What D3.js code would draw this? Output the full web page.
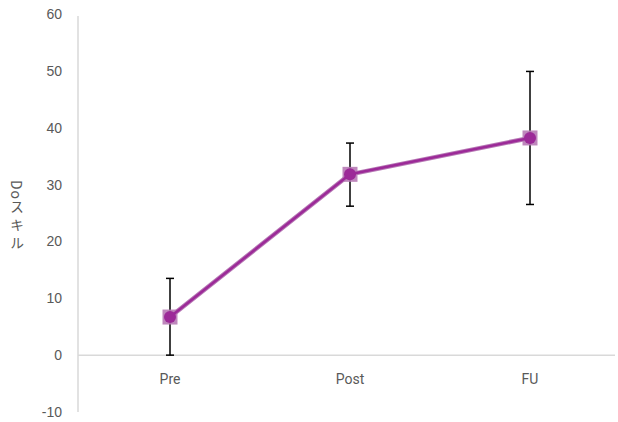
<!DOCTYPE html>
<html>
<head>
<meta charset="utf-8">
<script src="https://cdn.jsdelivr.net/npm/d3@7"></script>
<style>
  body { margin: 0; background: #fff; }
  text { font-family: "Noto Sans CJK JP", "Noto Sans", sans-serif; }
</style>
</head>
<body>
<div id="chart"></div>
<script>
// data
var categories = ["Pre", "Post", "FU"];
var means = [6.7, 31.8, 38.2];
var errUp = [6.8, 5.5, 11.7];
var errDown = [6.7, 5.6, 11.7];
var yTicks = [-10, 0, 10, 20, 30, 40, 50, 60];
var yTitleParts = ["Do", "スキル"];

var svgWidth = 618, svgHeight = 422;
var svg = d3.select("#chart").append("svg")
  .attr("width", svgWidth)
  .attr("height", svgHeight);

// scales
var x = d3.scalePoint()
  .domain(categories)
  .range([170, 530]);

var y = d3.scaleLinear()
  .domain([-10, 60])
  .range([412, 14]);

// left axis
var yAxis = svg.append("g")
  .attr("transform", "translate(78,0)")
  .call(d3.axisLeft(y).tickValues(yTicks).tickSize(0).tickPadding(16)
    .tickFormat(function(d) { return String(d); }));
yAxis.select(".domain").attr("stroke", "#d9d9d9").attr("stroke-width", 1.5)
  .attr("d", "M0," + (y(60) + 2) + "V" + y(-10));
yAxis.selectAll("text").attr("fill", "#595959").style("font-size", "14px")
  .style("font-family", "'Liberation Sans', Arial, sans-serif");

// zero line
svg.append("line")
  .attr("x1", 78).attr("x2", 615)
  .attr("y1", y(0)).attr("y2", y(0))
  .attr("stroke", "#d9d9d9").attr("stroke-width", 1.5);

// category labels
svg.selectAll(".cat")
  .data(categories)
  .enter().append("text")
  .attr("x", function(d) { return x(d); })
  .attr("y", 384)
  .attr("text-anchor", "middle")
  .attr("fill", "#595959")
  .style("font-size", "14px")
  .style("font-family", "Roboto, 'Noto Sans', sans-serif")
  .text(function(d) { return d; });

// y title (vertical writing)
var title = svg.append("text")
  .attr("x", 17)
  .attr("y", 217)
  .attr("text-anchor", "middle")
  .attr("fill", "#595959")
  .style("writing-mode", "vertical-rl")
  .style("text-orientation", "mixed")
  .style("font-size", "14px");
title.append("tspan").style("letter-spacing", "1px").text(yTitleParts[0]);
title.append("tspan").style("letter-spacing", "4px").text(yTitleParts[1]);

// error bars
var eb = svg.selectAll(".err")
  .data(categories)
  .enter().append("g");
eb.append("line")
  .attr("x1", function(d) { return x(d); })
  .attr("x2", function(d) { return x(d); })
  .attr("y1", function(d, i) { return y(means[i] + errUp[i]); })
  .attr("y2", function(d, i) { return y(means[i] - errDown[i]); })
  .attr("stroke", "#000").attr("stroke-width", 1.5);
eb.append("line")
  .attr("x1", function(d) { return x(d) - 4; })
  .attr("x2", function(d) { return x(d) + 4; })
  .attr("y1", function(d, i) { return y(means[i] + errUp[i]); })
  .attr("y2", function(d, i) { return y(means[i] + errUp[i]); })
  .attr("stroke", "#000").attr("stroke-width", 1.5);
eb.append("line")
  .attr("x1", function(d) { return x(d) - 4; })
  .attr("x2", function(d) { return x(d) + 4; })
  .attr("y1", function(d, i) { return y(means[i] - errDown[i]); })
  .attr("y2", function(d, i) { return y(means[i] - errDown[i]); })
  .attr("stroke", "#000").attr("stroke-width", 1.5);

// lines
var line = d3.line()
  .x(function(d, i) { return x(categories[i]); })
  .y(function(d) { return y(d); });

svg.append("path")
  .datum(means)
  .attr("fill", "none")
  .attr("stroke", "#b77ab5")
  .attr("stroke-width", 4.5)
  .attr("stroke-linejoin", "round")
  .attr("d", line);

// square markers
svg.selectAll(".sq")
  .data(means)
  .enter().append("rect")
  .attr("x", function(d, i) { return x(categories[i]) - 7.5; })
  .attr("y", function(d) { return y(d) - 7.5; })
  .attr("width", 15).attr("height", 15)
  .attr("fill", "#b77ab5")
  .attr("opacity", 0.9);

svg.append("path")
  .datum(means)
  .attr("fill", "none")
  .attr("stroke", "#9c2a98")
  .attr("stroke-width", 2.5)
  .attr("stroke-linejoin", "round")
  .attr("d", line);

// circle markers
svg.selectAll(".dot")
  .data(means)
  .enter().append("circle")
  .attr("cx", function(d, i) { return x(categories[i]); })
  .attr("cy", function(d) { return y(d); })
  .attr("r", 6)
  .attr("fill", "#9c2a98");
</script>
</body>
</html>
